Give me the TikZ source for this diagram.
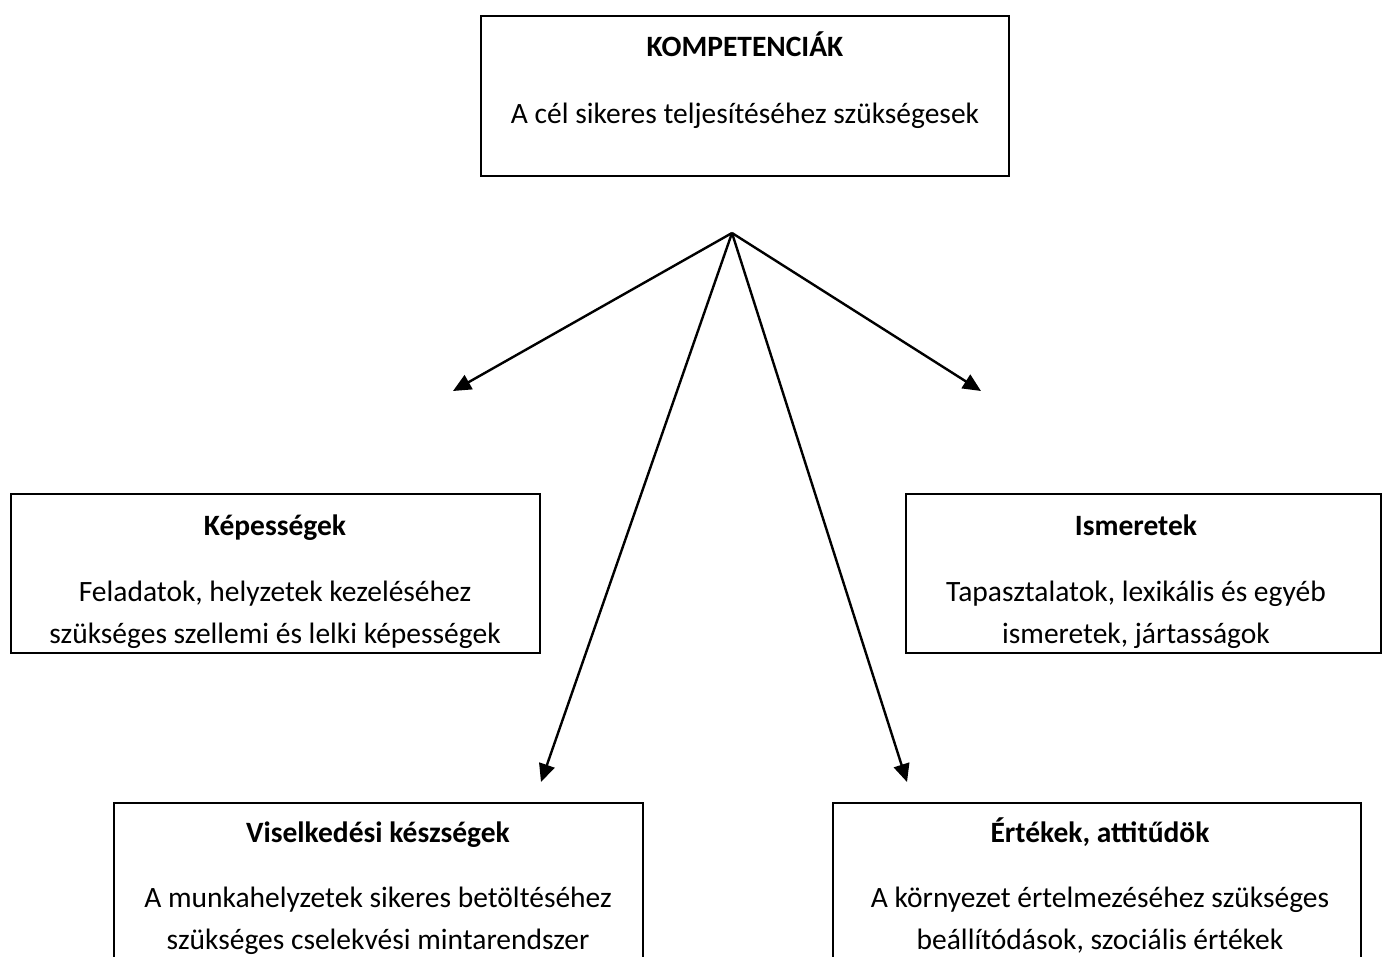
\documentclass[tikz,border=0pt]{standalone}
\usepackage{fontspec}
\setmainfont{Carlito}
\usetikzlibrary{arrows.meta}
\begin{document}
\begin{tikzpicture}[x=1pt,y=-1pt,
  boxline/.style={draw=black,line width=2.2pt},
  title/.style={font=\fontsize{29.5}{42}\selectfont\bfseries,inner sep=0pt,text height=0.7em,text depth=0.2em},
  body/.style={font=\fontsize{29.5}{42}\selectfont,inner sep=0pt,text height=0.7em,text depth=0.2em},
  arr/.style={line width=2.4pt,-{Triangle[length=18pt,width=16pt]}}]
\clip (0,0) rectangle (1382,957);
\fill[white] (0,0) rectangle (1382,957);
% top box
\node[title] (kt) at (745,54) {KOMPETENCIÁK};
\node[body] (ks) at (745,121) {A cél sikeres teljesítéséhez szükségesek};
\draw[boxline] (481,16) rectangle (1009,176);
% left box
\begin{scope}
\clip (11,494) rectangle (540,653);
\node[title] (lt) at (275,533) {Képességek};
\node[body] (l1) at (275,599) {Feladatok, helyzetek kezeléséhez};
\node[body] (l2) at (275,641) {szükséges szellemi és lelki képességek};
\end{scope}
\draw[boxline] (11,494) rectangle (540,653);
% right box
\begin{scope}
\clip (906,494) rectangle (1381,653);
\node[title] (rt) at (1136,533) {Ismeretek};
\node[body] (r1) at (1136,599) {Tapasztalatok, lexikális és egyéb};
\node[body] (r2) at (1136,641) {ismeretek, jártasságok};
\end{scope}
\draw[boxline] (906,494) rectangle (1381,653);
% bottom left box
\node[title] (bt) at (378,840) {Viselkedési készségek};
\node[body] (b1) at (378,905) {A munkahelyzetek sikeres betöltéséhez};
\node[body] (b2) at (378,947) {szükséges cselekvési mintarendszer};
\draw[boxline] (114,990) -- (114,803) -- (643,803) -- (643,990);
% bottom right box
\node[title] (et) at (1100,840) {Értékek, attitűdök};
\node[body] (e1) at (1100,905) {A környezet értelmezéséhez szükséges};
\node[body] (e2) at (1100,947) {beállítódások, szociális értékek};
\draw[boxline] (833,990) -- (833,803) -- (1361,803) -- (1361,990);
% arrows
\coordinate (hub) at (732,233);
\coordinate (tl) at (453,391);
\coordinate (tr) at (981,391);
\coordinate (ml) at (541,782);
\coordinate (mr) at (907,782);
\draw[arr] (hub) -- (tl);
\draw[arr] (hub) -- (tr);
\draw[arr] (hub) -- (ml);
\draw[arr] (hub) -- (mr);
\end{tikzpicture}
\end{document}
